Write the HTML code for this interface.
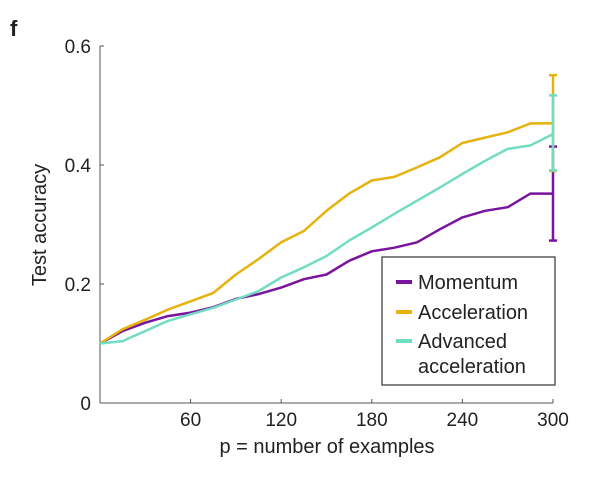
<!DOCTYPE html>
<html><head><meta charset="utf-8"><style>
body{margin:0;background:#fff;}
svg text{font-family:"Liberation Sans",sans-serif;fill:#222;}
</style></head><body>
<svg id="chart" width="600" height="475" viewBox="0 0 600 475">
<text x="10" y="36" font-size="22" font-weight="bold">f</text>
<g id="axes"></g>
<g id="series"></g>
<g>
<rect x="382" y="257" width="173" height="128" fill="#fff" stroke="#333" stroke-width="1.2"/>
<line x1="396" y1="282" x2="412" y2="282" stroke="#7a139e" stroke-width="4"/>
<text x="418" y="289" font-size="20">Momentum</text>
<line x1="396" y1="312" x2="412" y2="312" stroke="#e6b20e" stroke-width="4"/>
<text x="418" y="319" font-size="20">Acceleration</text>
<line x1="396" y1="341" x2="412" y2="341" stroke="#72dcc3" stroke-width="4"/>
<text x="418" y="348" font-size="20">Advanced</text>
<text x="418" y="373" font-size="20">acceleration</text>
</g>
<text x="327" y="453" font-size="20" text-anchor="middle">p = number of examples</text>
<text transform="translate(46,225) rotate(-90)" font-size="20" text-anchor="middle">Test accuracy</text>
</svg>
<script>
const xValues=[0,15,30,45,60,75,90,105,120,135,150,165,180,195,210,225,240,255,270,285,300];
const momentum=[0.100,0.121,0.135,0.146,0.152,0.161,0.175,0.183,0.194,0.208,0.216,0.239,0.255,0.261,0.270,0.292,0.312,0.323,0.329,0.352,0.352];
const acceleration=[0.100,0.124,0.140,0.157,0.171,0.185,0.216,0.242,0.270,0.289,0.323,0.352,0.374,0.380,0.396,0.413,0.437,0.446,0.455,0.470,0.470];
const advanced=[0.100,0.104,0.121,0.138,0.149,0.160,0.174,0.188,0.211,0.228,0.247,0.273,0.295,0.318,0.340,0.362,0.385,0.407,0.427,0.433,0.452];
const errLow=[0.273,0.39,0.391];
const errHigh=[0.431,0.551,0.517];
const xTicks=[60,120,180,240,300];
const yTicks=[0,0.2,0.4,0.6];
const yTickLabels=["0","0.2","0.4","0.6"];
const colors=["#7a139e","#e6b20e","#72dcc3"];
const names=["momentum","acceleration","advanced-acceleration"];
const X=v=>100+v*(453/300);
const Y=v=>403-v*(357/0.6);
const NS="http://www.w3.org/2000/svg";
function mk(t,a,p){const e=document.createElementNS(NS,t);for(const k in a)e.setAttribute(k,a[k]);p.appendChild(e);return e;}
const ax=document.getElementById('axes');
const xa=mk('line',{x1:X(0),y1:Y(0),x2:X(300),y2:Y(0),stroke:'#555','stroke-width':1},ax);


const ya=mk('line',{x1:X(0),y1:Y(0),x2:X(0),y2:Y(0.6),stroke:'#555','stroke-width':1},ax);


xTicks.forEach(t=>{
 const l=mk('line',{x1:X(t),y1:Y(0),x2:X(t),y2:Y(0)-4,stroke:'#555'},ax);
 
 
 const tx=mk('text',{x:X(t),y:426,'font-size':19,'text-anchor':'middle'},ax);tx.textContent=t;
 
 
});
yTicks.forEach((t,i)=>{
 const l=mk('line',{x1:X(0),y1:Y(t),x2:X(0)+4,y2:Y(t),stroke:'#555'},ax);
 
 
 const tx=mk('text',{x:91,y:Y(t)+7,'font-size':19,'text-anchor':'end'},ax);tx.textContent=yTickLabels[i];
 
 
});
const sg=document.getElementById('series');
[momentum,acceleration,advanced].forEach((s,i)=>{
 const d=s.map((v,j)=>(j?'L':'M')+X(xValues[j]).toFixed(1)+','+Y(v).toFixed(1)).join(' ');
 const p=mk('path',{d:d,fill:'none',stroke:colors[i],'stroke-width':2.5,'stroke-linejoin':'round'},sg);
 
 
});
[0,1,2].forEach(i=>{
 const x=X(300);
 const g=mk('g',{stroke:colors[i],'stroke-width':2.5},sg);
 
 
 mk('line',{x1:x,y1:Y(errLow[i]),x2:x,y2:Y(errHigh[i])},g);
 mk('line',{x1:x-4,y1:Y(errLow[i]),x2:x+4,y2:Y(errLow[i])},g);
 mk('line',{x1:x-4,y1:Y(errHigh[i]),x2:x+4,y2:Y(errHigh[i])},g);
});
</script>
</body></html>
